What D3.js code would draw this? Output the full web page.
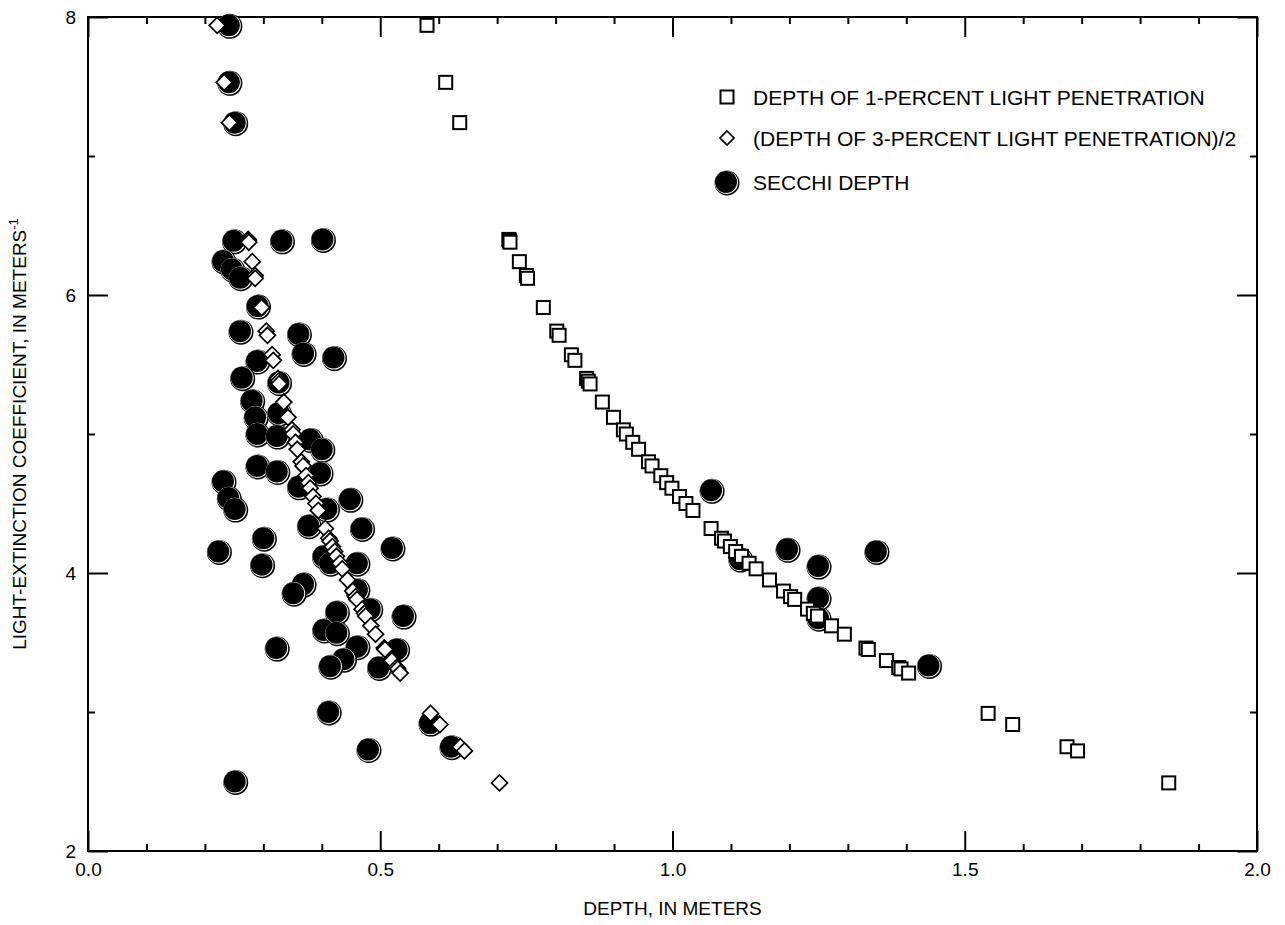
<!DOCTYPE html>
<html lang="en">
<head>
    <meta charset="UTF-8">
    <title>Light extinction vs depth</title>
    <script src="https://d3js.org/d3.v7.min.js"></script>
    <style>
        body { margin: 0; background: #fff; }
        svg text { font-family: "Liberation Sans", Arial, Helvetica, sans-serif; fill: #000; }
        .tick line { stroke: #000; stroke-width: 2; }
        .tick text { font-size: 19px; }
    </style>
</head>
<body>
    <svg id="chart"></svg>

    <script>
        // Light-extinction coefficient (1/m) shared by the 1-percent and 3-percent series
        const kSample = [7.94, 7.53, 7.24, 6.40, 6.39, 6.38, 6.24, 6.14, 6.12, 5.91,
            5.74, 5.71, 5.57, 5.53, 5.40, 5.38, 5.36, 5.23, 5.12, 5.03,
            5.00, 4.94, 4.89, 4.80, 4.77, 4.70, 4.65, 4.61, 4.55, 4.50,
            4.45, 4.32, 4.25, 4.23, 4.19, 4.155, 4.12, 4.07, 4.03, 3.95,
            3.87, 3.83, 3.81, 3.74, 3.71, 3.69, 3.62, 3.56, 3.46, 3.45,
            3.37, 3.32, 3.31, 3.28, 2.99, 2.91, 2.75, 2.72, 2.49];

        // Depth of 1-percent light penetration (m)
        const depth1pct = [0.580, 0.612, 0.636, 0.720, 0.721, 0.722, 0.738, 0.750, 0.752, 0.779,
            0.802, 0.806, 0.827, 0.833, 0.853, 0.856, 0.859, 0.880, 0.899, 0.916,
            0.921, 0.932, 0.942, 0.959, 0.965, 0.980, 0.990, 0.999, 1.012, 1.023,
            1.035, 1.066, 1.084, 1.089, 1.099, 1.108, 1.118, 1.131, 1.143, 1.166,
            1.190, 1.202, 1.209, 1.231, 1.241, 1.248, 1.272, 1.294, 1.331, 1.335,
            1.366, 1.387, 1.391, 1.404, 1.540, 1.582, 1.675, 1.693, 1.849];

        // (Depth of 3-percent light penetration)/2 (m)
        const depth3pctHalf = [0.221, 0.233, 0.242, 0.274, 0.274, 0.275, 0.281, 0.286, 0.286, 0.297,
            0.305, 0.307, 0.315, 0.317, 0.325, 0.326, 0.327, 0.335, 0.342, 0.349,
            0.351, 0.355, 0.358, 0.365, 0.368, 0.373, 0.377, 0.380, 0.385, 0.390,
            0.394, 0.406, 0.412, 0.414, 0.418, 0.422, 0.425, 0.431, 0.435, 0.444,
            0.453, 0.458, 0.460, 0.469, 0.473, 0.475, 0.484, 0.492, 0.507, 0.508,
            0.520, 0.528, 0.530, 0.534, 0.586, 0.602, 0.637, 0.644, 0.704];

        // Secchi depth (m) and its extinction coefficient
        const secchiDepth = [0.241, 0.241, 0.251, 0.249, 0.331, 0.401, 0.231, 0.246, 0.260, 0.290,
            0.260, 0.360, 0.368, 0.420, 0.289, 0.263, 0.326, 0.280, 0.286, 0.326,
            0.289, 0.323, 0.380, 0.400, 0.289, 0.323, 0.397, 0.231, 0.240, 0.251,
            0.360, 0.448, 0.408, 0.377, 0.468, 0.300, 0.223, 0.520, 0.403, 0.414,
            0.460, 0.297, 0.368, 0.351, 0.460, 0.482, 0.425, 0.539, 0.403, 0.425,
            0.460, 0.528, 0.322, 0.437, 0.414, 0.497, 0.411, 0.585, 0.621, 0.479,
            0.251, 1.066, 1.115, 1.196, 1.249, 1.348, 1.249, 1.249, 1.438];
        const secchiK = [7.94, 7.53, 7.24, 6.39, 6.39, 6.40, 6.245, 6.185, 6.125, 5.92,
            5.74, 5.72, 5.58, 5.55, 5.525, 5.405, 5.37, 5.24, 5.12, 5.15,
            5.00, 4.985, 4.96, 4.89, 4.77, 4.73, 4.72, 4.66, 4.54, 4.46,
            4.62, 4.53, 4.46, 4.34, 4.32, 4.25, 4.155, 4.18, 4.12, 4.07,
            4.07, 4.06, 3.92, 3.855, 3.88, 3.74, 3.72, 3.69, 3.59, 3.57,
            3.47, 3.45, 3.46, 3.38, 3.33, 3.32, 3.00, 2.92, 2.75, 2.73,
            2.50, 4.595, 4.10, 4.17, 4.05, 4.155, 3.82, 3.675, 3.335];

        const legendLabels = ["DEPTH OF 1-PERCENT LIGHT PENETRATION",
            "(DEPTH OF 3-PERCENT LIGHT PENETRATION)/2",
            "SECCHI DEPTH"];

        const xMajor = [0, 0.5, 1.0, 1.5, 2.0];
        const xMinor = [0.1, 0.2, 0.3, 0.4, 0.6, 0.7, 0.8, 0.9, 1.1, 1.2, 1.3, 1.4, 1.6, 1.7, 1.8, 1.9];
        const yMajor = [2, 4, 6, 8];
        const yMinor = [3, 5, 7];

        const width = 1285, height = 925;
        const plotL = 88, plotR = 1257, plotT = 17, plotB = 851;

        const svg = d3.select("#chart")
            .attr("width", width)
            .attr("height", height);

        const x = d3.scaleLinear().domain([0, 2]).range([plotL, plotR]);
        const y = d3.scaleLinear().domain([2, 8]).range([plotB, plotT]);

        // axes: major and minor ticks on all four sides, pointing inward
        function addAxis(axis, tx, ty, labels) {
            const g = svg.append("g")
                .attr("transform", `translate(${tx},${ty})`)
                .call(axis);
            g.select(".domain").remove();
            if (!labels) g.selectAll("text").remove();
            return g;
        }

        addAxis(d3.axisBottom(x).tickValues(xMajor).tickSize(-20).tickPadding(12).tickFormat(d3.format(".1f")), 0, plotB, true);
        addAxis(d3.axisBottom(x).tickValues(xMinor).tickSize(-7), 0, plotB, false);
        addAxis(d3.axisTop(x).tickValues(xMajor).tickSize(-20), 0, plotT, false);
        addAxis(d3.axisTop(x).tickValues(xMinor).tickSize(-7), 0, plotT, false);
        addAxis(d3.axisLeft(y).tickValues(yMajor).tickSize(-20).tickPadding(12).tickFormat(d3.format("d")), plotL, 0, true);
        addAxis(d3.axisLeft(y).tickValues(yMinor).tickSize(-7), plotL, 0, false);
        addAxis(d3.axisRight(y).tickValues(yMajor).tickSize(-20), plotR, 0, false);
        addAxis(d3.axisRight(y).tickValues(yMinor).tickSize(-7), plotR, 0, false);

        svg.append("rect")
            .attr("x", plotL).attr("y", plotT)
            .attr("width", plotR - plotL).attr("height", plotB - plotT)
            .attr("fill", "none").attr("stroke", "#000").attr("stroke-width", 2);

        // axis titles
        svg.append("text")
            .attr("x", (plotL + plotR) / 2).attr("y", 915)
            .attr("text-anchor", "middle")
            .style("font-size", "19px")
            .text("DEPTH, IN METERS");

        const yTitle = svg.append("text")
            .attr("transform", `translate(26,${(plotT + plotB) / 2}) rotate(-90)`)
            .attr("text-anchor", "middle")
            .style("font-size", "19px");
        yTitle.append("tspan").text("LIGHT-EXTINCTION COEFFICIENT, IN METERS");
        yTitle.append("tspan").attr("dy", -8).style("font-size", "13px").text("-1");

        // marker helpers
        function secchiMark(g, cx, cy) {
            g.append("circle").attr("cx", cx + 1).attr("cy", cy + 1).attr("r", 12.5).attr("fill", "#000");
            g.append("circle").attr("cx", cx + 0.4).attr("cy", cy + 0.4).attr("r", 11.6).attr("fill", "#fff");
            g.append("circle").attr("cx", cx).attr("cy", cy).attr("r", 11).attr("fill", "#000");
        }
        const sq = 13, dia = 8;

        // Secchi depth circles (drawn first, underneath)
        const secchiG = svg.append("g");
        secchiDepth.forEach((d, i) => secchiMark(secchiG, x(d), y(secchiK[i])));

        // 1-percent squares
        svg.append("g").selectAll("rect")
            .data(depth1pct)
            .enter()
            .append("rect")
            .attr("x", (d, i) => x(d) - sq / 2)
            .attr("y", (d, i) => y(kSample[i]) - sq / 2)
            .attr("width", sq).attr("height", sq)
            .attr("fill", "#fff").attr("stroke", "#000").attr("stroke-width", 2);

        // 3-percent / 2 diamonds
        const diamondPath = `M0,${-dia}L${dia},0L0,${dia}L${-dia},0Z`;
        svg.append("g").selectAll("path")
            .data(depth3pctHalf)
            .enter()
            .append("path")
            .attr("d", diamondPath)
            .attr("transform", (d, i) => `translate(${x(d)},${y(kSample[i])})`)
            .attr("fill", "#fff").attr("stroke", "#000").attr("stroke-width", 1.7);

        // legend
        const legend = svg.append("g");
        const rowY = [97, 138, 182];
        legend.append("rect")
            .attr("x", 727 - 6.5).attr("y", rowY[0] - 6.5)
            .attr("width", 13).attr("height", 13)
            .attr("fill", "#fff").attr("stroke", "#000").attr("stroke-width", 2);
        legend.append("path")
            .attr("d", `M0,-7L7,0L0,7L-7,0Z`)
            .attr("transform", `translate(727,${rowY[1]})`)
            .attr("fill", "#fff").attr("stroke", "#000").attr("stroke-width", 1.7);
        secchiMark(legend, 726, rowY[2]);
        legend.selectAll("text.lg")
            .data(legendLabels)
            .enter()
            .append("text")
            .attr("class", "lg")
            .attr("x", 753)
            .attr("y", (d, i) => rowY[i])
            .attr("dy", "0.36em")
            .style("font-size", "21px")
            .text(d => d);
    </script>
</body>
</html>
